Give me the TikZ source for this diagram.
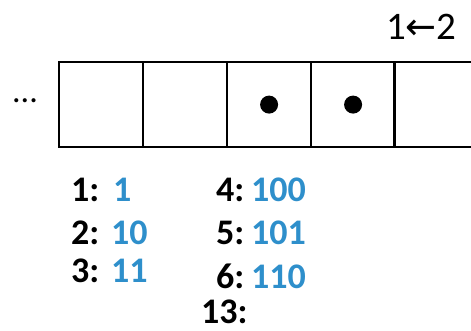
\documentclass[tikz,border=0pt]{standalone}
\usepackage{fontspec}
\setmainfont{Carlito}
\newfontfamily\arrowfont{DejaVu Sans}
\definecolor{bitblue}{HTML}{2E8FCB}
\begin{document}
\begin{tikzpicture}[x=1pt,y=-1pt,
  cell/.style={draw=black,line width=2.2pt,minimum width=84pt,minimum height=85pt,inner sep=0pt,anchor=north west},
  lbl/.style={font=\fontsize{36}{36}\selectfont\bfseries,anchor=base west,inner sep=0pt},
  bits/.style={font=\fontsize{36}{36}\selectfont\bfseries,text=bitblue,anchor=base west,inner sep=0pt},
  dot/.style={circle,fill=black,minimum size=18pt,inner sep=0pt}]
\useasboundingbox (0,0) rectangle (471,331);
\node[cell] (c1) at (58,61) {};
\node[cell] (c2) at (142,61) {};
\node[cell] (c3) at (226,61) {};
\node[cell] (c4) at (310,61) {};
\node[cell,minimum width=110pt] (c5) at (393,61) {};
\node[dot] (d1) at (c3.center) {};
\node[dot] (d2) at (c4.center) {};
\node[font=\fontsize{34}{34}\selectfont,anchor=center,inner sep=0pt] (ell) at (25,101) {...};
\node[font=\fontsize{39}{39}\selectfont,anchor=base west,inner sep=0pt] (swap) at (386,40) {1{\arrowfont\fontsize{37}{37}\selectfont ←}2};
\node[lbl] (l1) at (71,202) {1:};
\node[bits] (b1) at (113,202) {1};
\node[lbl] (l2) at (71,244) {2:};
\node[bits] (b2) at (111,244) {10};
\node[lbl] (l3) at (71,282) {3:};
\node[bits] (b3) at (111,282) {11};
\node[lbl] (l4) at (216,202) {4:};
\node[bits] (b4) at (251,202) {100};
\node[lbl] (l5) at (216,244) {5:};
\node[bits] (b5) at (251,244) {101};
\node[lbl] (l6) at (216,288) {6:};
\node[bits] (b6) at (251,288) {110};
\node[lbl] (l13) at (201,323) {13:};
\end{tikzpicture}
\end{document}
